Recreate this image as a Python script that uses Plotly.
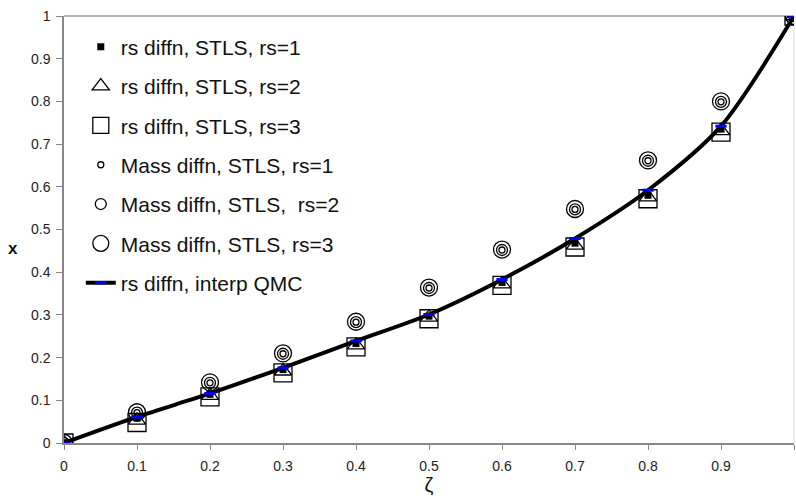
import plotly.graph_objects as go

zeta = [0.0, 0.1, 0.2, 0.3, 0.4, 0.5, 0.6, 0.7, 0.8, 0.9, 1.0]

rs_stls_rs1 = [0.0, 0.058, 0.114, 0.172, 0.233, 0.297, 0.376, 0.468, 0.580, 0.735, 1.0]
rs_stls_rs2 = [0.0, 0.053, 0.111, 0.168, 0.229, 0.294, 0.372, 0.463, 0.576, 0.731, 1.0]
rs_stls_rs3 = [0.0, 0.048, 0.108, 0.164, 0.225, 0.291, 0.369, 0.459, 0.572, 0.728, 1.0]

mass_stls_rs1 = [0.0, 0.071, 0.141, 0.209, 0.283, 0.363, 0.452, 0.547, 0.661, 0.799, 1.0]
mass_stls_rs2 = [0.0, 0.071, 0.141, 0.209, 0.283, 0.363, 0.452, 0.547, 0.661, 0.799, 1.0]
mass_stls_rs3 = [0.0, 0.072, 0.142, 0.210, 0.284, 0.364, 0.453, 0.548, 0.662, 0.800, 1.0]

qmc = [0.0, 0.061, 0.116, 0.176, 0.239, 0.301, 0.383, 0.479, 0.592, 0.742, 1.0]

x_ticks = [0, 0.1, 0.2, 0.3, 0.4, 0.5, 0.6, 0.7, 0.8, 0.9, 1]
x_tick_labels = ["0", "0.1", "0.2", "0.3", "0.4", "0.5", "0.6", "0.7", "0.8", "0.9", "1"]
y_ticks = [0, 0.1, 0.2, 0.3, 0.4, 0.5, 0.6, 0.7, 0.8, 0.9, 1]
y_tick_labels = ["0", "0.1", "0.2", "0.3", "0.4", "0.5", "0.6", "0.7", "0.8", "0.9", "1"]

fig = go.Figure()

def add_markers(y, name, symbol, size, lw=1.3, group="g"):
    fig.add_trace(go.Scatter(
        x=zeta, y=y, mode="markers", name=name, legendgroup=group,
        marker=dict(symbol=symbol, size=size, color="black",
                    line=dict(color="black", width=lw)),
    ))

add_markers(rs_stls_rs1, "rs diffn, STLS, rs=1", "square", 7, lw=0, group="a")
add_markers(rs_stls_rs2, "rs diffn, STLS, rs=2", "triangle-up-open", 15, group="b")
add_markers(rs_stls_rs3, "rs diffn, STLS, rs=3", "square-open", 18, group="c")
add_markers(mass_stls_rs1, "Mass diffn, STLS, rs=1", "circle-open", 6, group="d")
add_markers(mass_stls_rs2, "Mass diffn, STLS,  rs=2", "circle-open", 11, group="e")
add_markers(mass_stls_rs3, "Mass diffn, STLS, rs=3", "circle-open", 17, group="f")

fig.add_trace(go.Scatter(
    x=zeta, y=qmc, mode="lines+markers", name="rs diffn, interp QMC", legendgroup="h",
    line=dict(color="black", width=4, shape="spline", smoothing=0.8),
    marker=dict(symbol="line-ew", size=8, color="blue", line=dict(color="blue", width=3)),
))

fig.update_layout(
    width=796, height=499,
    margin=dict(l=64, r=2, t=16, b=56, autoexpand=False),
    paper_bgcolor="white", plot_bgcolor="white",
    font=dict(family="Liberation Sans, Arial, sans-serif", color="#222"),
    showlegend=True,
    legend=dict(x=0.023, y=0.975, xanchor="left", yanchor="top",
                font=dict(size=21, color="#111"), bgcolor="rgba(0,0,0,0)",
                tracegroupgap=9, itemsizing="trace"),
    xaxis=dict(range=[0, 1], tickvals=x_ticks, ticktext=x_tick_labels,
               showgrid=False, zeroline=False, showline=True, linecolor="#888",
               linewidth=1.5, mirror=False, ticks="outside", ticklen=5,
               tickcolor="#888", tickfont=dict(size=14, color="#222"),
               ticklabelstandoff=4,
               title=dict(text="ζ", font=dict(size=20, color="#111"), standoff=4)),
    yaxis=dict(range=[0, 1], tickvals=y_ticks, ticktext=y_tick_labels,
               showgrid=False, zeroline=False, showline=True, linecolor="#888",
               linewidth=1.5, mirror=False, ticks="outside", ticklen=6,
               tickcolor="#888", tickfont=dict(size=14, color="#222"),
               ticklabelstandoff=3),
    annotations=[
        dict(text="<b>x</b>", xref="paper", yref="paper", x=-(64 - 13) / 730, y=0.455,
             xanchor="center", yanchor="middle", showarrow=False,
             font=dict(size=17, color="#111")),
    ],
    shapes=[
        dict(type="line", xref="paper", yref="paper", x0=0, x1=1, y0=1, y1=1,
             line=dict(color="#999", width=1.5), layer="below"),
        dict(type="line", xref="paper", yref="paper", x0=1, x1=1, y0=0, y1=1,
             line=dict(color="#ddd", width=1), layer="below"),
    ],
)

fig.write_html("out.html", config={"displayModeBar": False},
               post_script="document.body.style.margin='0';")
